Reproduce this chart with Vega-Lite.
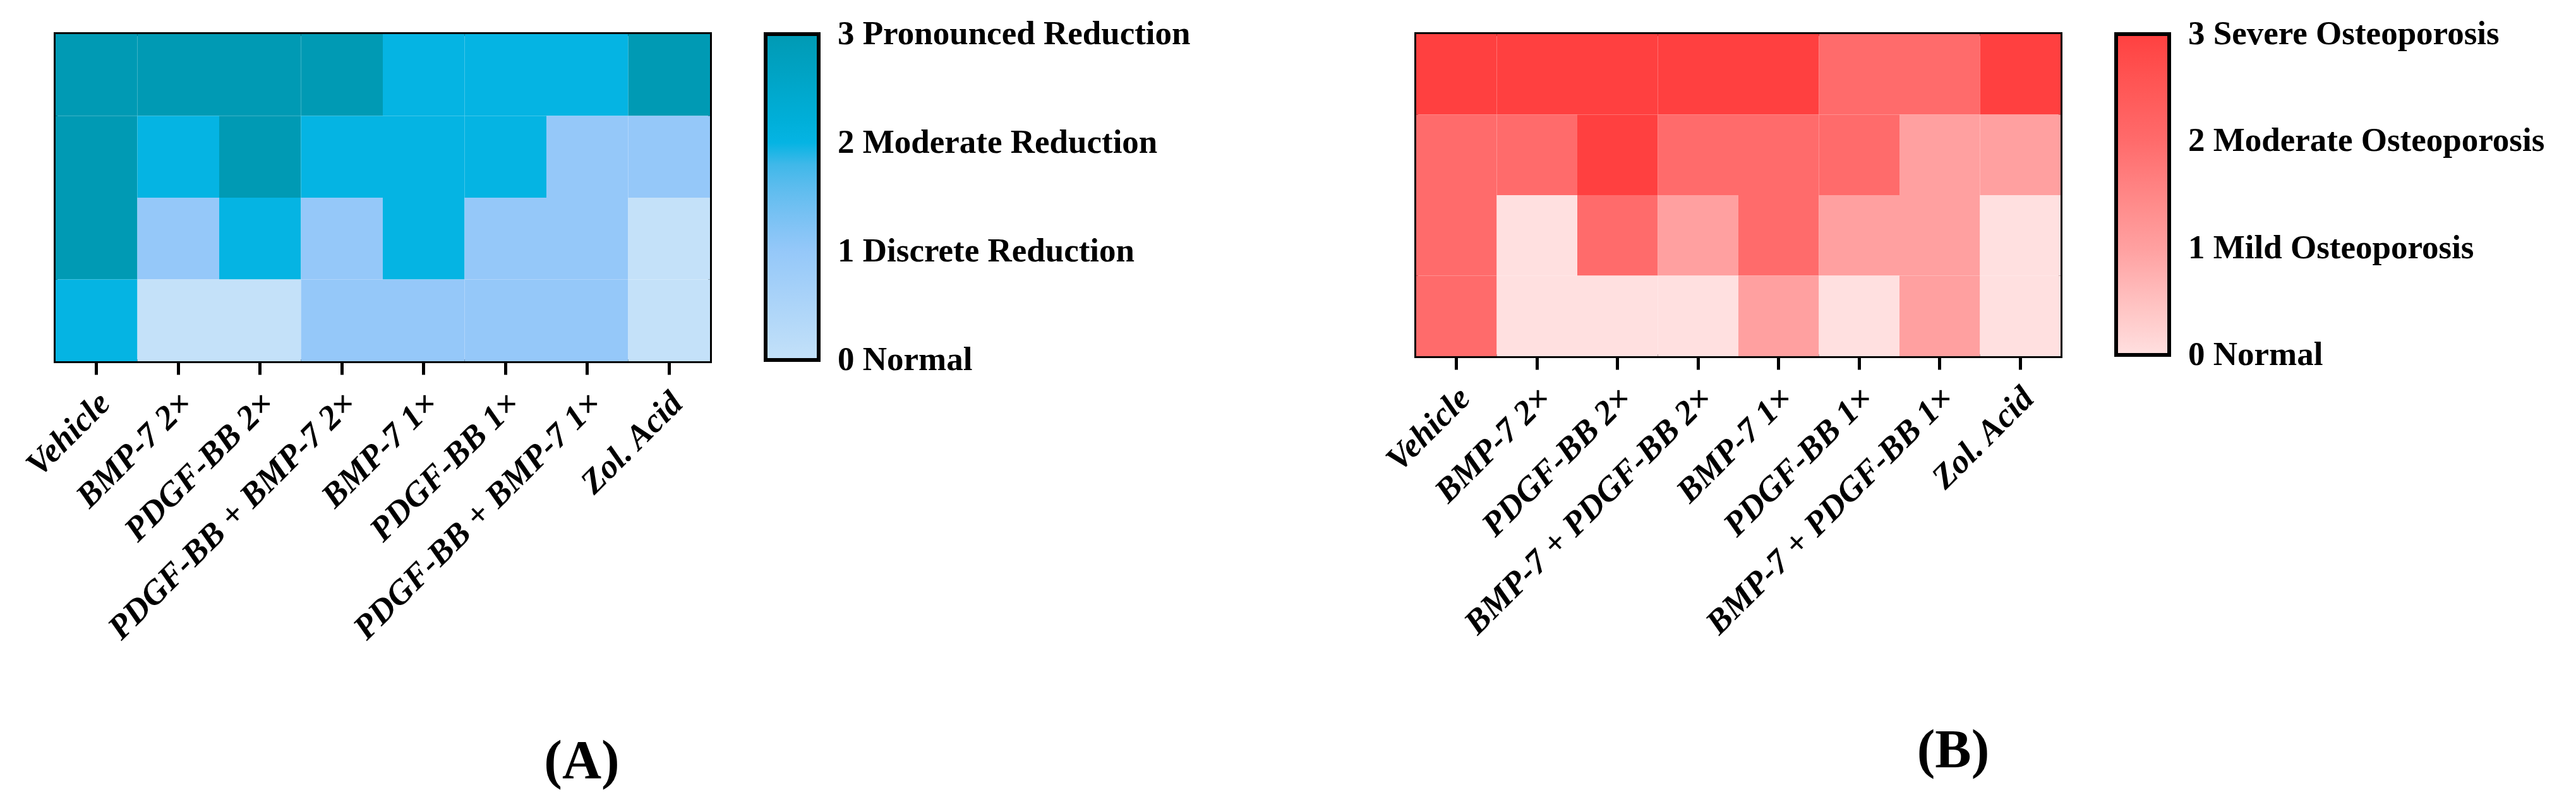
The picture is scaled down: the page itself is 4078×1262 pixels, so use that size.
{
  "$schema": "https://vega.github.io/schema/vega-lite/v6.json",
  "background": "white",
  "padding": {"left": 28, "top": 51, "right": 0, "bottom": 0},
  "spacing": 293,
  "config": {
    "font": "Liberation Serif",
    "view": {"stroke": "black", "strokeWidth": 6},
    "axis": {
      "domain": false,
      "ticks": true,
      "tickColor": "black",
      "tickWidth": 5,
      "tickSize": 21,
      "labelFont": "Liberation Serif",
      "labelFontSize": 54,
      "labelFontWeight": "bold",
      "labelFontStyle": "italic",
      "labelColor": "black",
      "labelAngle": -45,
      "labelAlign": "right",
      "labelBaseline": "top",
      "labelPadding": 18,
      "labelOffset": -6,
      "labelLimit": 2000,
      "labelOverlap": false,
      "title": null,
      "grid": false
    },
    "legend": {
      "title": null,
      "padding": 0,
      "offset": 88
    }
  },
  "datasets": {
    "reduction": [
      {"treatment": "Vehicle", "row": 1, "score": 3},
      {"treatment": "Vehicle", "row": 2, "score": 3},
      {"treatment": "Vehicle", "row": 3, "score": 3},
      {"treatment": "Vehicle", "row": 4, "score": 2},
      {"treatment": "BMP-7 2×", "row": 1, "score": 3},
      {"treatment": "BMP-7 2×", "row": 2, "score": 2},
      {"treatment": "BMP-7 2×", "row": 3, "score": 1},
      {"treatment": "BMP-7 2×", "row": 4, "score": 0},
      {"treatment": "PDGF-BB 2×", "row": 1, "score": 3},
      {"treatment": "PDGF-BB 2×", "row": 2, "score": 3},
      {"treatment": "PDGF-BB 2×", "row": 3, "score": 2},
      {"treatment": "PDGF-BB 2×", "row": 4, "score": 0},
      {"treatment": "PDGF-BB + BMP-7  2×", "row": 1, "score": 3},
      {"treatment": "PDGF-BB + BMP-7  2×", "row": 2, "score": 2},
      {"treatment": "PDGF-BB + BMP-7  2×", "row": 3, "score": 1},
      {"treatment": "PDGF-BB + BMP-7  2×", "row": 4, "score": 1},
      {"treatment": "BMP-7 1×", "row": 1, "score": 2},
      {"treatment": "BMP-7 1×", "row": 2, "score": 2},
      {"treatment": "BMP-7 1×", "row": 3, "score": 2},
      {"treatment": "BMP-7 1×", "row": 4, "score": 1},
      {"treatment": "PDGF-BB 1×", "row": 1, "score": 2},
      {"treatment": "PDGF-BB 1×", "row": 2, "score": 2},
      {"treatment": "PDGF-BB 1×", "row": 3, "score": 1},
      {"treatment": "PDGF-BB 1×", "row": 4, "score": 1},
      {"treatment": "PDGF-BB + BMP-7 1×", "row": 1, "score": 2},
      {"treatment": "PDGF-BB + BMP-7 1×", "row": 2, "score": 1},
      {"treatment": "PDGF-BB + BMP-7 1×", "row": 3, "score": 1},
      {"treatment": "PDGF-BB + BMP-7 1×", "row": 4, "score": 1},
      {"treatment": "Zol. Acid", "row": 1, "score": 3},
      {"treatment": "Zol. Acid", "row": 2, "score": 1},
      {"treatment": "Zol. Acid", "row": 3, "score": 0},
      {"treatment": "Zol. Acid", "row": 4, "score": 0}
    ],
    "osteo": [
      {"treatment": "Vehicle", "row": 1, "score": 3},
      {"treatment": "Vehicle", "row": 2, "score": 2},
      {"treatment": "Vehicle", "row": 3, "score": 2},
      {"treatment": "Vehicle", "row": 4, "score": 2},
      {"treatment": "BMP-7 2×", "row": 1, "score": 3},
      {"treatment": "BMP-7 2×", "row": 2, "score": 2},
      {"treatment": "BMP-7 2×", "row": 3, "score": 0},
      {"treatment": "BMP-7 2×", "row": 4, "score": 0},
      {"treatment": "PDGF-BB 2×", "row": 1, "score": 3},
      {"treatment": "PDGF-BB 2×", "row": 2, "score": 3},
      {"treatment": "PDGF-BB 2×", "row": 3, "score": 2},
      {"treatment": "PDGF-BB 2×", "row": 4, "score": 0},
      {"treatment": "BMP-7 + PDGF-BB 2×", "row": 1, "score": 3},
      {"treatment": "BMP-7 + PDGF-BB 2×", "row": 2, "score": 2},
      {"treatment": "BMP-7 + PDGF-BB 2×", "row": 3, "score": 1},
      {"treatment": "BMP-7 + PDGF-BB 2×", "row": 4, "score": 0},
      {"treatment": "BMP-7 1×", "row": 1, "score": 3},
      {"treatment": "BMP-7 1×", "row": 2, "score": 2},
      {"treatment": "BMP-7 1×", "row": 3, "score": 2},
      {"treatment": "BMP-7 1×", "row": 4, "score": 1},
      {"treatment": "PDGF-BB 1×", "row": 1, "score": 2},
      {"treatment": "PDGF-BB 1×", "row": 2, "score": 2},
      {"treatment": "PDGF-BB 1×", "row": 3, "score": 1},
      {"treatment": "PDGF-BB 1×", "row": 4, "score": 0},
      {"treatment": "BMP-7 + PDGF-BB 1×", "row": 1, "score": 2},
      {"treatment": "BMP-7 + PDGF-BB 1×", "row": 2, "score": 1},
      {"treatment": "BMP-7 + PDGF-BB 1×", "row": 3, "score": 1},
      {"treatment": "BMP-7 + PDGF-BB 1×", "row": 4, "score": 1},
      {"treatment": "Zol. Acid", "row": 1, "score": 3},
      {"treatment": "Zol. Acid", "row": 2, "score": 1},
      {"treatment": "Zol. Acid", "row": 3, "score": 0},
      {"treatment": "Zol. Acid", "row": 4, "score": 0}
    ]
  },
  "hconcat": [
    {
      "data": {"name": "reduction"},
      "width": 1036,
      "height": 518,
      "title": {"text": "(A)", "orient": "bottom", "anchor": "middle", "frame": "group", "dx": 315, "offset": 132, "fontSize": 86, "font": "Liberation Serif", "fontWeight": "bold", "color": "black"},
      "mark": {"type": "rect"},
      "encoding": {
        "x": {
          "field": "treatment", "type": "nominal",
          "sort": ["Vehicle", "BMP-7 2×", "PDGF-BB 2×", "PDGF-BB + BMP-7  2×", "BMP-7 1×", "PDGF-BB 1×", "PDGF-BB + BMP-7 1×", "Zol. Acid"],
          "scale": {"paddingInner": 0, "paddingOuter": 0}
        },
        "y": {"field": "row", "type": "ordinal", "axis": null, "scale": {"paddingInner": 0, "paddingOuter": 0}},
        "color": {
          "field": "score", "type": "quantitative",
          "scale": {"domain": [0, 1, 2, 3], "range": ["#c4e1f9", "#95c8f9", "#05b4e3", "#009ab4"]},
          "legend": {
            "gradientLength": 516,
            "gradientThickness": 84,
            "gradientStrokeColor": "black",
            "gradientStrokeWidth": 6,
            "labelFont": "Liberation Serif",
            "labelFontSize": 53,
            "labelFontWeight": "bold",
            "labelColor": "black",
            "labelOffset": 30,
            "labelLimit": 2000,
            "labelOverlap": false,
            "values": [0, 1, 2, 3],
            "labelExpr": "datum.value == 3 ? '3 Pronounced Reduction' : datum.value == 2 ? '2 Moderate Reduction' : datum.value == 1 ? '1 Discrete Reduction' : '0 Normal'",
            "encode": {"labels": {"update": {"baseline": {"value": "middle"}}}}
          }
        }
      }
    },
    {
      "data": {"name": "osteo"},
      "width": 1020,
      "height": 510,
      "title": {"text": "(B)", "orient": "bottom", "anchor": "middle", "frame": "group", "dx": 340, "offset": 132, "fontSize": 86, "font": "Liberation Serif", "fontWeight": "bold", "color": "black"},
      "mark": {"type": "rect"},
      "encoding": {
        "x": {
          "field": "treatment", "type": "nominal",
          "sort": ["Vehicle", "BMP-7 2×", "PDGF-BB 2×", "BMP-7 + PDGF-BB 2×", "BMP-7 1×", "PDGF-BB 1×", "BMP-7 + PDGF-BB 1×", "Zol. Acid"],
          "scale": {"paddingInner": 0, "paddingOuter": 0}
        },
        "y": {"field": "row", "type": "ordinal", "axis": null, "scale": {"paddingInner": 0, "paddingOuter": 0}},
        "color": {
          "field": "score", "type": "quantitative",
          "scale": {"domain": [0, 1, 2, 3], "range": ["#ffe0e0", "#ffa0a0", "#ff6b6b", "#ff4040"]},
          "legend": {
            "gradientLength": 508,
            "gradientThickness": 84,
            "gradientStrokeColor": "black",
            "gradientStrokeWidth": 6,
            "labelFont": "Liberation Serif",
            "labelFontSize": 53,
            "labelFontWeight": "bold",
            "labelColor": "black",
            "labelOffset": 30,
            "labelLimit": 2000,
            "labelOverlap": false,
            "values": [0, 1, 2, 3],
            "labelExpr": "datum.value == 3 ? '3 Severe Osteoporosis' : datum.value == 2 ? '2 Moderate Osteoporosis' : datum.value == 1 ? '1 Mild Osteoporosis' : '0 Normal'",
            "encode": {"labels": {"update": {"baseline": {"value": "middle"}}}}
          }
        }
      }
    }
  ],
  "resolve": {"scale": {"color": "independent"}, "legend": {"color": "independent"}}
}
